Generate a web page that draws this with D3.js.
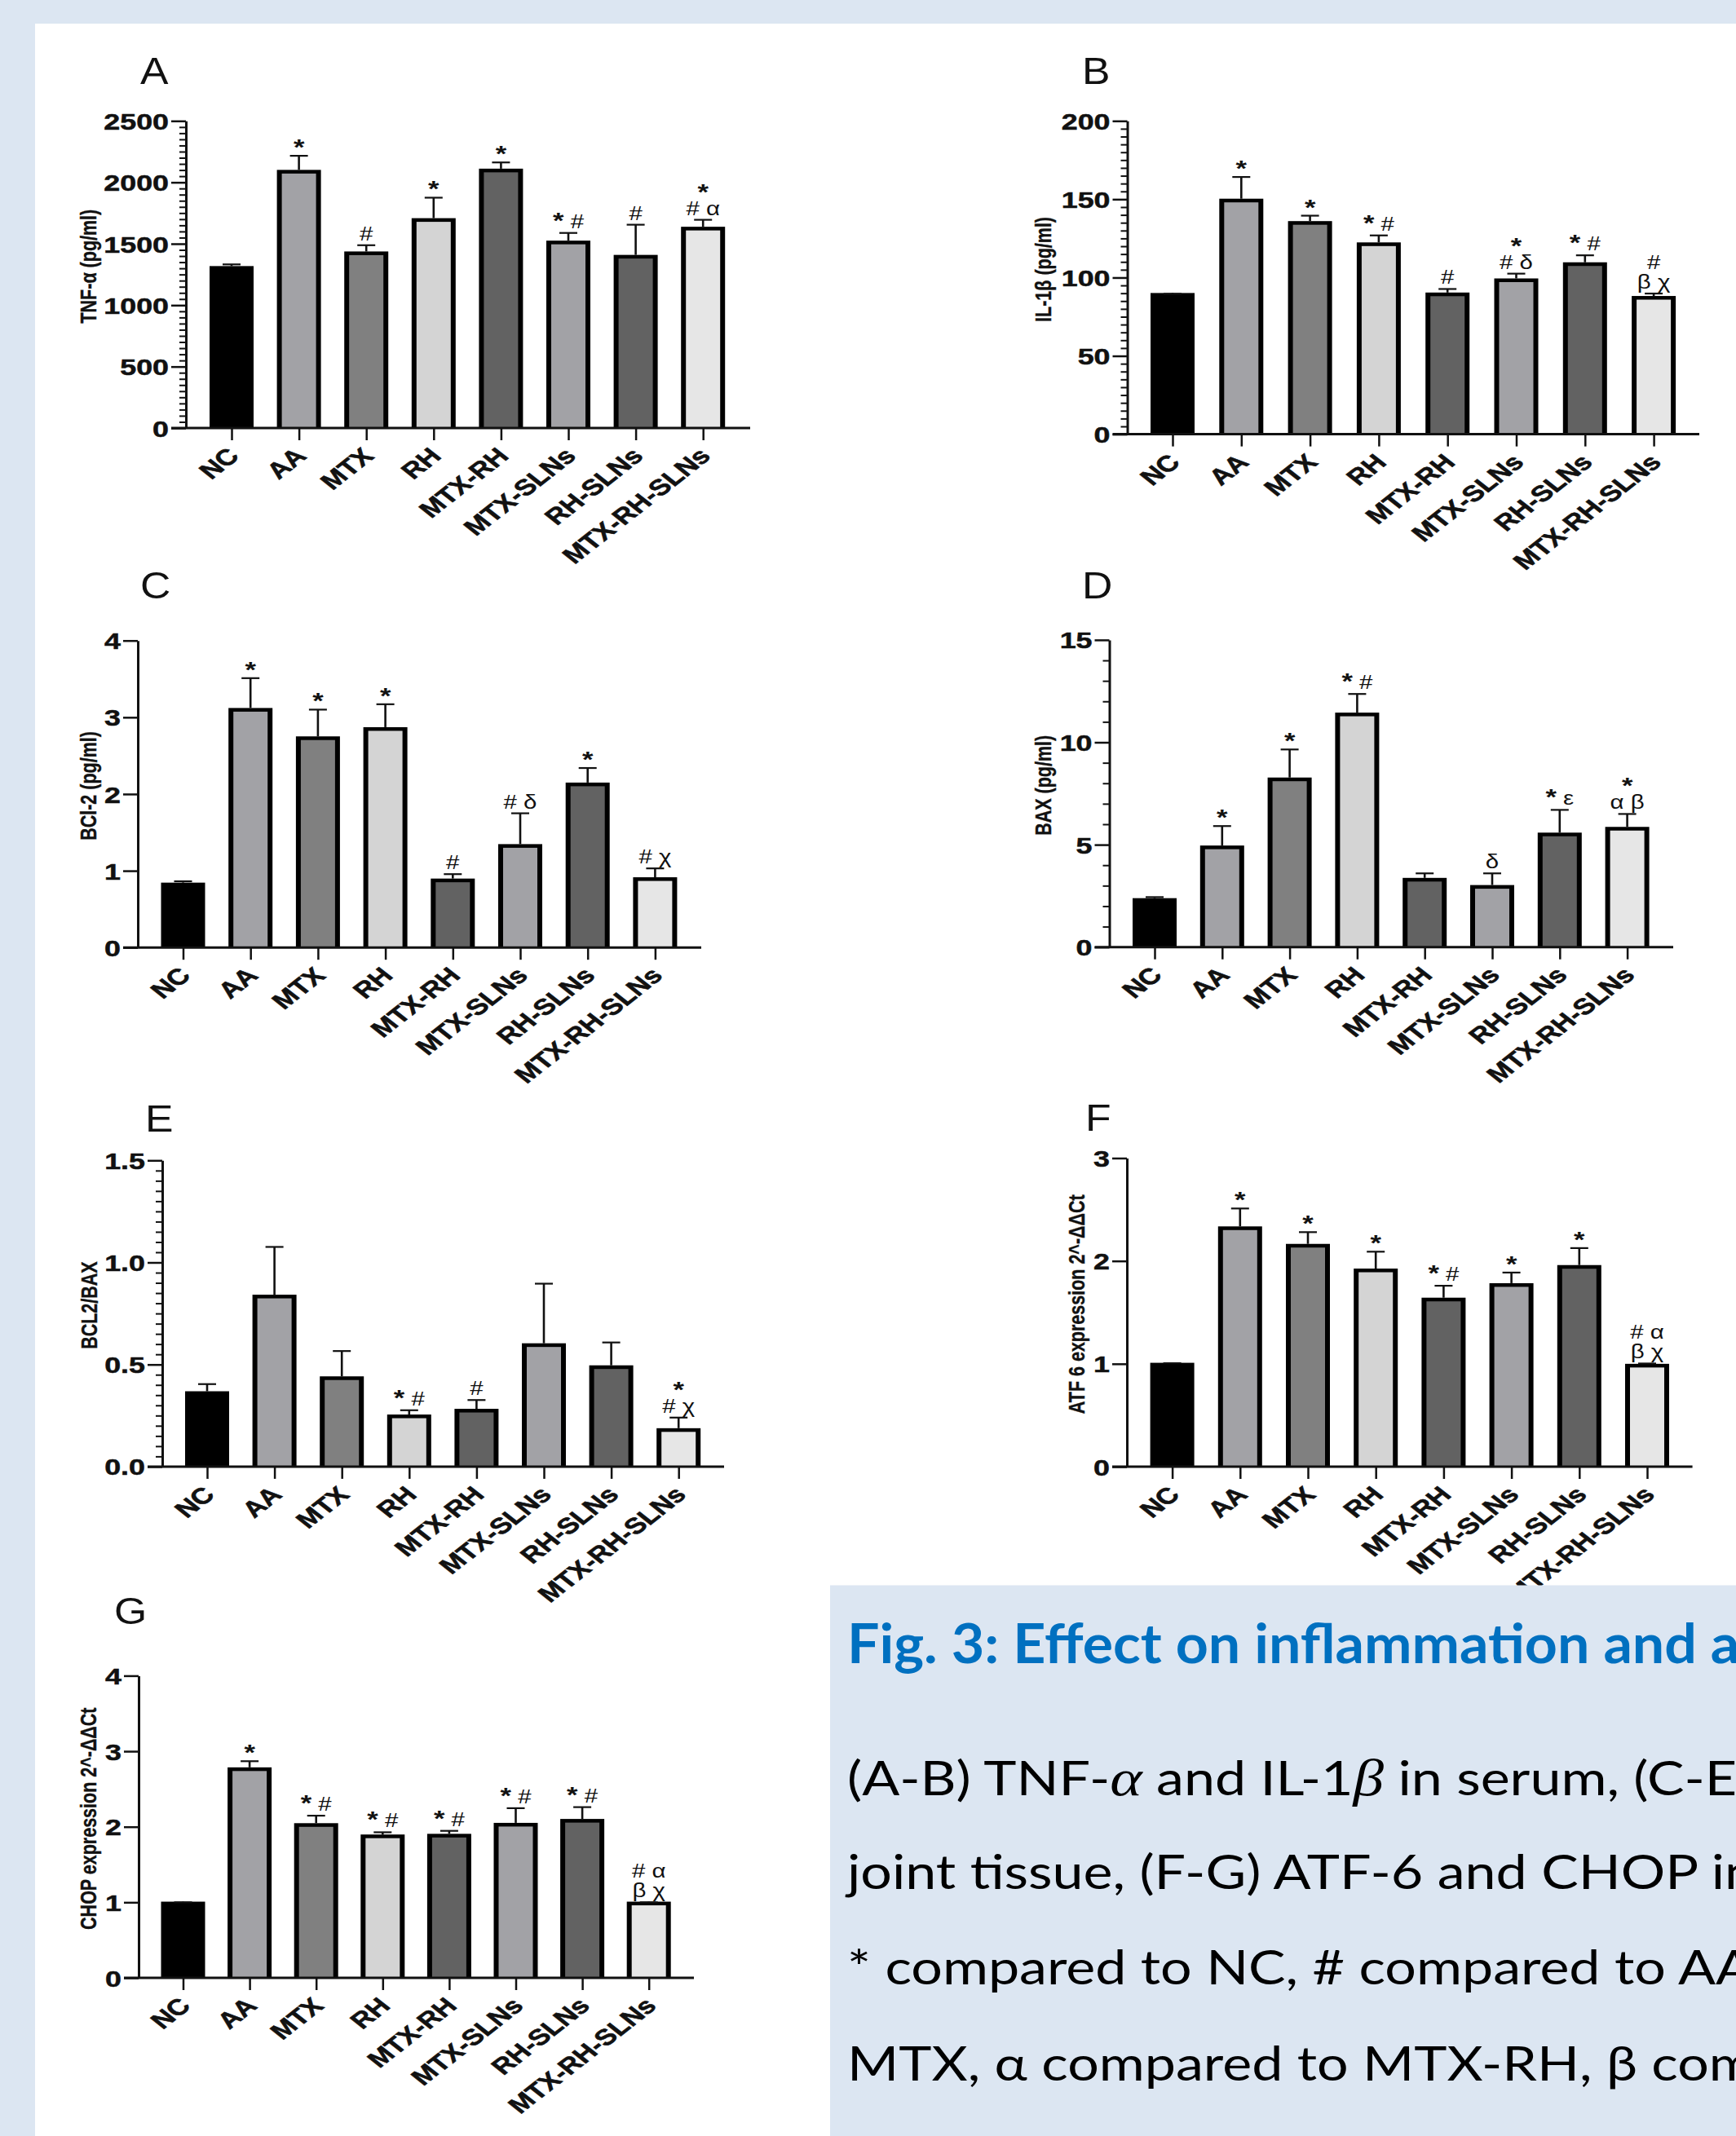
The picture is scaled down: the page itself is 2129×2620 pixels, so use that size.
<!DOCTYPE html>
<html><head><meta charset="utf-8">
<script src="https://cdn.jsdelivr.net/npm/d3@7"></script>
<style>body{margin:0;background:#dce6f2} text{white-space:pre}</style>
</head><body><svg id="c" width="2129" height="2620"></svg>
<script>
// ---------------- DATA ----------------
const categories = ["NC","AA","MTX","RH","MTX-RH","MTX-SLNs","RH-SLNs","MTX-RH-SLNs"];

const tnfMean  = [1305,2088,1424,1695,2098,1512,1396,1625];
const tnfUpper = [1332,2216,1488,1875,2162,1588,1655,1695];
const tnfMarks = [[],["*"],["#"],["*"],["*"],["* #"],["#"],["*","# α"]];
const tnfTicks = [0,500,1000,1500,2000,2500];
const tnfMinorStep = 50;

const il1bMean  = [89.1,149.3,135.0,121.4,89.4,98.4,108.7,87.2];
const il1bUpper = [89.6,164.2,139.5,126.9,92.7,102.5,114.2,89.8];
const il1bMarks = [[],["*"],["*"],["* #"],["#"],["*","# δ"],["* #"],["#","β χ"]];
const il1bTicks = [0,50,100,150,200];
const il1bMinorStep = 5;

const bcl2Mean  = [0.824,3.10,2.73,2.85,0.877,1.326,2.128,0.894];
const bcl2Upper = [0.863,3.51,3.10,3.17,0.956,1.749,2.339,1.031];
const bcl2Marks = [[],["*"],["*"],["*"],["#"],["# δ"],["*"],["# χ"]];
const bcl2Ticks = [0,1,2,3,4];

const baxMean  = [2.31,4.88,8.20,11.37,3.30,2.95,5.51,5.79];
const baxUpper = [2.44,5.91,9.65,12.36,3.60,3.60,6.70,6.50];
const baxMarks = [[],["*"],["*"],["* #"],[],["δ"],["* ε"],["*","α β"]];
const baxTicks = [0,5,10,15];
const baxMinorStep = 1;

const ratioMean  = [0.361,0.834,0.434,0.247,0.275,0.596,0.488,0.180];
const ratioUpper = [0.404,1.076,0.566,0.276,0.326,0.896,0.608,0.240];
const ratioMarks = [[],[],[],["* #"],["#"],[],[],["*","# χ"]];
const ratioTicks = [0,0.5,1.0,1.5];
const ratioMinorStep = 0.05;

const atf6Mean  = [0.994,2.32,2.15,1.91,1.627,1.768,1.944,0.984];
const atf6Upper = [1.006,2.51,2.28,2.09,1.759,1.887,2.125,1.003];
const atf6Marks = [[],["*"],["*"],["*"],["* #"],["*"],["*"],["# α","β χ"]];
const atf6Ticks = [0,1,2,3];

const chopMean  = [0.987,2.765,2.026,1.876,1.885,2.030,2.082,0.987];
const chopUpper = [1.000,2.868,2.147,1.927,1.946,2.246,2.260,1.000];
const chopMarks = [[],["*"],["* #"],["* #"],["* #"],["* #"],["* #"],["# α","β χ"]];
const chopTicks = [0,1,2,3,4];

const panelLetters = ["A","B","C","D","E","F","G"];
const yLabels = ["TNF-α (pg/ml)","IL-1β (pg/ml)","BCl-2 (pg/ml)","BAX (pg/ml)","BCL2/BAX",
                 "ATF 6 expression 2^-ΔΔCt","CHOP expression 2^-ΔΔCt"];

const captionTitle = "Fig. 3: Effect on inflammation and apoptosis markers";
const captionLines = [
  "(A-B) TNF-{α} and IL-1{β} in serum, (C-E) BCl-2, BAX and BCL2/BAX in",
  "joint tissue, (F-G) ATF-6 and CHOP in joint tissue.",
  "* compared to NC, # compared to AA, δ compared to",
  "MTX, α compared to MTX-RH, β compared to MTX-SLNs,",
  "χ compared to RH-SLNs and ε compared to RH."
];

// ---------------- STYLE / LAYOUT ----------------
const fills = ["#000000","#a2a2a6","#808080","#d4d4d4","#626262","#a2a2a6","#626262","#e6e6e6"];
const SX = 1.28;
const FONT = "'Liberation Sans', Arial, Helvetica, sans-serif";

const panels = [
  {mean:tnfMean,  upper:tnfUpper,  marks:tnfMarks,  ticks:tnfTicks,  minor:tnfMinorStep,  fmt:"d"},
  {mean:il1bMean, upper:il1bUpper, marks:il1bMarks, ticks:il1bTicks, minor:il1bMinorStep, fmt:"d"},
  {mean:bcl2Mean, upper:bcl2Upper, marks:bcl2Marks, ticks:bcl2Ticks, minor:null,          fmt:"d"},
  {mean:baxMean,  upper:baxUpper,  marks:baxMarks,  ticks:baxTicks,  minor:baxMinorStep,  fmt:"d"},
  {mean:ratioMean,upper:ratioUpper,marks:ratioMarks,ticks:ratioTicks,minor:ratioMinorStep,fmt:".1f"},
  {mean:atf6Mean, upper:atf6Upper, marks:atf6Marks, ticks:atf6Ticks, minor:null,          fmt:"d"},
  {mean:chopMean, upper:chopUpper, marks:chopMarks, ticks:chopTicks, minor:null,          fmt:"d"}
];
const layout = [
  {axisX:228,    y0:525,    yTop:148.3,  c0:284,    step:82.6, xEnd:920,    lx:172,  ly:103,  labX:118},
  {axisX:1382.5, y0:532.6,  yTop:148.3,  c0:1438,   step:84.3, xEnd:2084,   lx:1327, ly:103,  labX:1289},
  {axisX:169,    y0:1162.2, yTop:785.7,  c0:224.5,  step:82.7, xEnd:860,    lx:172,  ly:734,  labX:118},
  {axisX:1360.5, y0:1161.7, yTop:784.9,  c0:1416,   step:82.8, xEnd:2052,   lx:1327, ly:734,  labX:1289},
  {axisX:199,    y0:1798.9, yTop:1423.3, c0:254,    step:82.6, xEnd:888,    lx:178,  ly:1388, labX:119},
  {axisX:1382,   y0:1799,   yTop:1420.5, c0:1437.6, step:83.2, xEnd:2075.6, lx:1331, ly:1387, labX:1330},
  {axisX:170,    y0:2426,   yTop:2055.4, c0:224.5,  step:81.6, xEnd:851,    lx:140,  ly:1992, labX:118}
];

const svg = d3.select("#c");
svg.append("rect").attr("width",2129).attr("height",2620).attr("fill","#dce6f2");
svg.append("rect").attr("x",43).attr("y",29).attr("width",2129-43).attr("height",2620-29).attr("fill","#ffffff");

panels.forEach((p, pi) => {
  const L = layout[pi];
  const g = svg.append("g");
  const x = d3.scalePoint().domain(categories).range([L.c0, L.c0 + 7*L.step]);
  const y = d3.scaleLinear().domain([0, p.ticks[p.ticks.length-1]]).range([L.y0, L.yTop]);
  const BW = 54, SV = 6, SH = 4.5;

  // bars
  const bars = g.selectAll("g.bar").data(categories).join("g").attr("class","bar");
  bars.append("rect")
    .attr("x", d => x(d) - BW/2).attr("y", (d,i) => y(p.mean[i]) - 2)
    .attr("width", BW).attr("height", (d,i) => L.y0 - y(p.mean[i]) + 2)
    .attr("fill", "#000");
  bars.append("rect")
    .attr("x", d => x(d) - BW/2 + SV).attr("y", (d,i) => y(p.mean[i]) - 2 + SH)
    .attr("width", BW - 2*SV).attr("height", (d,i) => Math.max(0, L.y0 - y(p.mean[i]) + 2 - SH))
    .attr("fill", (d,i) => fills[i]);
  // error bars (upper)
  bars.append("line")
    .attr("x1", d => x(d)).attr("x2", d => x(d))
    .attr("y1", (d,i) => y(p.mean[i]) - 2).attr("y2", (d,i) => y(p.upper[i]))
    .attr("stroke","#111").attr("stroke-width",2.6);
  bars.append("line")
    .attr("x1", d => x(d) - 11).attr("x2", d => x(d) + 11)
    .attr("y1", (d,i) => y(p.upper[i])).attr("y2", (d,i) => y(p.upper[i]))
    .attr("stroke","#111").attr("stroke-width",2.2);

  // significance marks
  categories.forEach((c, i) => {
    const lines = p.marks[i];
    const ut = y(p.upper[i]);
    let b = null;
    for (let k = lines.length - 1; k >= 0; k--) {
      const t = lines[k];
      const starOnly = t.trim() === "*";
      if (b === null) b = ut - (starOnly ? 1 : 6);
      else b = b - (starOnly ? 19 : 24);
      const te = g.append("text")
        .attr("transform", `translate(${x(c)},${b}) scale(${SX},1)`)
        .attr("text-anchor","middle")
        .style("font-family", FONT).style("font-size","23px").attr("fill","#111");
      t.split(" ").forEach((tok, j) => {
        const ts = te.append("tspan").text((j ? " " : "") + tok);
        if (tok === "*") ts.style("font-weight","bold").style("font-size","27px");
      });
    }
  });

  // y axis major
  const ya = g.append("g").attr("transform", `translate(${L.axisX},0)`)
    .call(d3.axisLeft(y).tickValues(p.ticks).tickSize(18).tickSizeOuter(0).tickFormat(d3.format(p.fmt)));
  ya.select(".domain").attr("stroke","#111").attr("stroke-width",3);
  ya.selectAll(".tick line").attr("stroke","#111").attr("stroke-width",2.5);
  ya.selectAll(".tick text").attr("x",0).attr("dy","0.36em")
    .attr("transform", `translate(-21,0) scale(${SX},1)`)
    .attr("fill","#111").attr("stroke","#111").attr("stroke-width",0.5)
    .style("font-family", FONT).style("font-weight","bold").style("font-size","28px");
  // y axis minor
  if (p.minor) {
    const top = p.ticks[p.ticks.length-1];
    const minorVals = d3.range(0, top + p.minor/2, p.minor)
      .filter(v => !p.ticks.some(t => Math.abs(t - v) < p.minor/10));
    const ym = g.append("g").attr("transform", `translate(${L.axisX},0)`)
      .call(d3.axisLeft(y).tickValues(minorVals).tickSize(8).tickFormat(""));
    ym.select(".domain").remove();
    ym.selectAll(".tick line").attr("stroke","#111").attr("stroke-width",2);
  }
  // x axis
  const xa = g.append("g").attr("transform", `translate(0,${L.y0})`)
    .call(d3.axisBottom(x).tickSize(15).tickFormat(""));
  xa.select(".domain").remove();
  xa.selectAll(".tick line").attr("stroke","#111").attr("stroke-width",2.5);
  g.append("line").attr("x1", L.axisX - 18).attr("x2", L.xEnd)
    .attr("y1", L.y0).attr("y2", L.y0).attr("stroke","#111").attr("stroke-width",3);

  // category labels
  g.selectAll("text.cat").data(categories).join("text").attr("class","cat")
    .attr("transform", d => `translate(${x(d) + 11},${L.y0 + 36}) scale(${SX},1) rotate(-45)`)
    .attr("text-anchor","end").attr("fill","#111").attr("stroke","#111").attr("stroke-width",0.6)
    .style("font-family", FONT).style("font-weight","bold").style("font-size","27.5px")
    .text(d => d);

  // y label
  g.append("text")
    .attr("transform", `translate(${L.labX},${(L.y0 + L.yTop)/2 - 10}) scale(${SX},1) rotate(-90)`)
    .attr("text-anchor","middle").attr("fill","#111").attr("stroke","#111").attr("stroke-width",0.3)
    .style("font-family", FONT).style("font-weight","bold").style("font-size","21.5px")
    .text(yLabels[pi]);

  // panel letter
  g.append("text")
    .attr("transform", `translate(${L.lx},${L.ly}) scale(1.1,1)`)
    .attr("fill","#111")
    .style("font-family", FONT).style("font-size","47px")
    .text(panelLetters[pi]);
});

// ---------------- CAPTION ----------------
const cap = svg.append("g");
cap.append("rect").attr("x",1018).attr("y",1944.5).attr("width",1111).attr("height",676).attr("fill","#dce6f2");
const title = cap.append("text").attr("x",0).attr("y",0)
  .style("font-family","Lato, 'Open Sans', sans-serif").style("font-weight","bold").style("font-size","66px")
  .attr("fill","#0070c0").text(captionTitle);
const tPrefix = "Fig. 3: Effect on inflammation and ";
const tw = title.node().getSubStringLength(0, tPrefix.length);
title.attr("transform", `translate(1039,2040) scale(${1059/tw},1)`);

const baselines = [2202, 2317, 2434, 2552, 2669];
const lineEls = captionLines.map((ln, li) => {
  const te = cap.append("text").attr("x",0).attr("y",0)
    .style("font-family","Lato, 'Open Sans', sans-serif").style("font-size","58px").attr("fill","#000");
  ln.split(/(\{[^}]*\})/).filter(s => s.length).forEach(seg => {
    if (seg.startsWith("{")) {
      te.append("tspan").text(seg.slice(1,-1))
        .style("font-family","'Liberation Serif', 'DejaVu Serif', serif").style("font-style","italic").style("font-size","64px");
    } else te.append("tspan").text(seg);
  });
  return te;
});
const bPrefix = "* compared to NC, # compared to ";
const bw = lineEls[2].node().getSubStringLength(0, bPrefix.length);
const kb = 1019 / bw;
lineEls.forEach((te, li) => te.attr("transform", `translate(1039,${baselines[li]}) scale(${kb},1)`));
</script>
</body></html>
